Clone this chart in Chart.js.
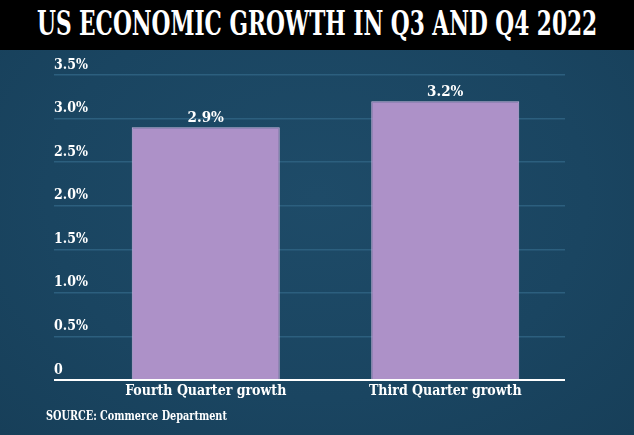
<!DOCTYPE html>
<html>
<head>
<meta charset="utf-8">
<script src="https://cdn.jsdelivr.net/npm/chart.js@4"></script>
<style>
  html, body { margin: 0; padding: 0; }
  body {
    width: 634px; height: 435px; overflow: hidden; position: relative;
    background: radial-gradient(ellipse at 50% 45%, #1e4b68 0%, #1a4561 60%, #173f59 100%);
    font-family: "DejaVu Serif", serif;
    font-stretch: condensed;
  }
  #header {
    position: absolute; left: 0; top: 0; width: 634px; height: 50px;
    background: #000;
  }
  .fit {
    position: absolute; white-space: nowrap; color: #fff; font-weight: bold;
    transform-origin: 0 0;
  }
  #title { top: 4px; font-size: 33px; line-height: 40px; }
  #source { top: 408px; left: 46px; font-size: 13px; line-height: 16px; }
  #chartWrap { position: absolute; left: 0; top: 50px; width: 634px; height: 385px; }
</style>
</head>
<body>
<div id="header"><span id="title" class="fit">US ECONOMIC GROWTH IN Q3 AND Q4 2022</span></div>
<div id="chartWrap"><canvas id="chart" width="634" height="385"></canvas></div>
<span id="source" class="fit">SOURCE: Commerce Department</span>
<script>
// data
const categories = ['Fourth Quarter growth', 'Third Quarter growth'];
const growth = [2.9, 3.2];
const yTicks = [0, 0.5, 1.0, 1.5, 2.0, 2.5, 3.0, 3.5];

const FONT = '"DejaVu Serif", serif';
const gridColor = '#2c5f7e';

// squeeze the html text to the width it has in the original
function fitWidth(el, w, left) {
  const s = w / el.offsetWidth;
  el.style.left = left + 'px';
  el.style.transform = 'scaleX(' + s + ')';
}
fitWidth(document.getElementById('title'), 560, 37);
fitWidth(document.getElementById('source'), 181, 46);

// value labels on top of each bar
const valueLabels = {
  id: 'valueLabels',
  afterDatasetsDraw(chart) {
    const ctx = chart.ctx;
    const meta = chart.getDatasetMeta(0);
    ctx.save();
    ctx.fillStyle = '#fff';
    ctx.font = 'bold condensed 15px ' + FONT;
    ctx.textAlign = 'center';
    ctx.textBaseline = 'alphabetic';
    meta.data.forEach((bar, i) => {
      ctx.fillText(growth[i].toFixed(1) + '%', bar.x, bar.y - 5);
    });
    ctx.restore();
  }
};

new Chart(document.getElementById('chart'), {
  type: 'bar',
  data: {
    labels: categories,
    datasets: [{
      data: growth,
      backgroundColor: '#ad91c8',
      borderColor: '#cbb7e0',
      borderWidth: 1,
      categoryPercentage: 1,
      barPercentage: 0.618
    }]
  },
  options: {
    responsive: false,
    animation: false,
    layout: { padding: { left: 54, right: 69, top: 25, bottom: 25 } },
    plugins: {
      legend: { display: false },
      tooltip: { enabled: false }
    },
    scales: {
      x: {
        grid: { display: false, drawTicks: false },
        border: { display: false },
        ticks: {
          color: '#fff',
          padding: 3,
          font: { family: FONT, size: 14, weight: 'bold condensed' }
        },
        afterFit(s) { s.height = 30; s.paddingLeft = 0; s.paddingRight = 0; }
      },
      y: {
        min: 0,
        max: 3.5,
        afterBuildTicks(s) { s.ticks = yTicks.map(v => ({ value: v })); },
        grid: {
          color: c => (c.tick && c.tick.value === 0 ? '#ffffff' : gridColor),
          tickColor: c => (c.tick && c.tick.value === 0 ? '#ffffff' : gridColor),
          lineWidth: c => (c.tick && c.tick.value === 0 ? 2 : 1.5),
          drawTicks: true,
          tickLength: 32
        },
        border: { display: false },
        ticks: {
          color: '#fff',
          mirror: true,
          padding: -32,
          labelOffset: -10,
          font: { family: FONT, size: 14, weight: 'bold condensed' },
          callback: v => (v === 0 ? '0' : v.toFixed(1) + '%')
        },
        afterFit(s) { s.width = 32; s.paddingTop = 0; s.paddingBottom = 0; }
      }
    }
  },
  plugins: [valueLabels]
});
</script>
</body>
</html>
